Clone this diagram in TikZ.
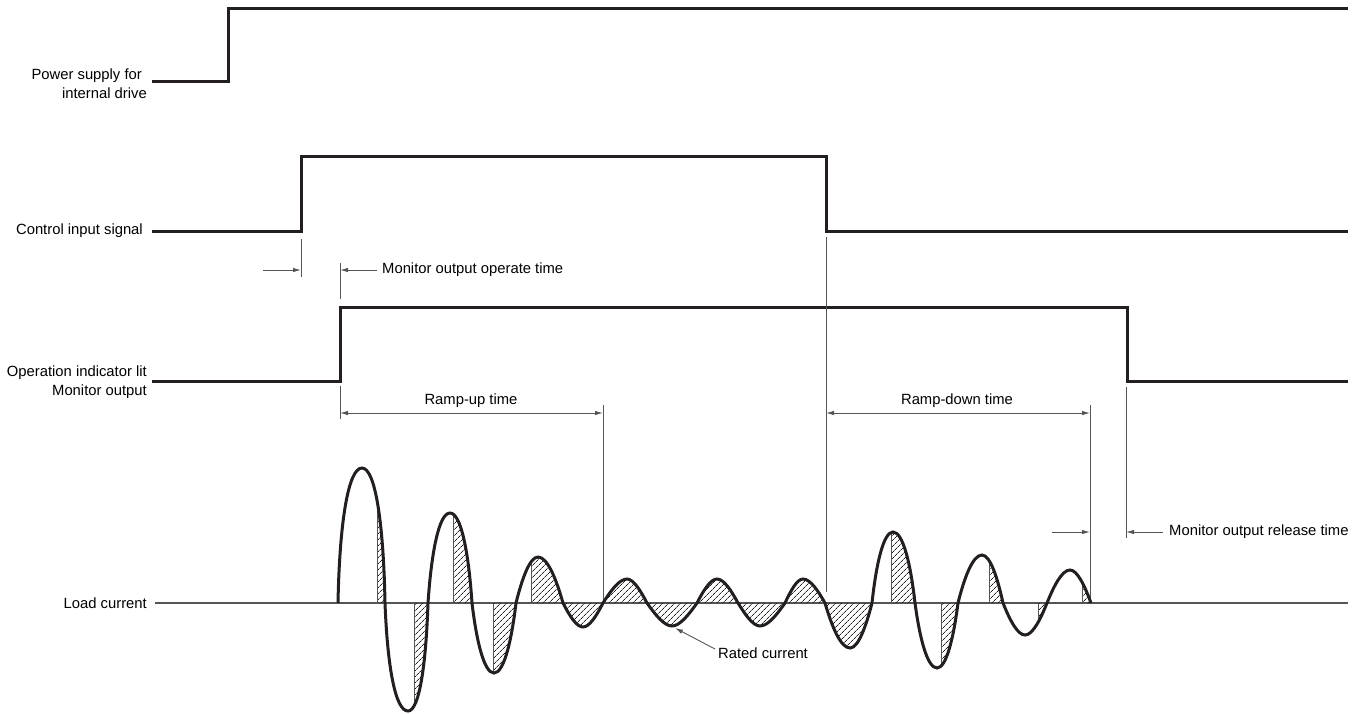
\documentclass[tikz,border=0pt]{standalone}
\usepackage{fontspec}
\setmainfont{Liberation Sans}
\usetikzlibrary{arrows.meta,patterns.meta}

\definecolor{ink}{HTML}{231F20}
\definecolor{rule}{HTML}{555555}

\tikzset{
    signal/.style={line width=3pt, color=ink},
    guide/.style={line width=0.9pt, color=rule},
    dim/.style={guide, -{Latex[length=8pt,width=4.5pt]}},
    twodim/.style={guide, {Latex[length=8pt,width=4.5pt]}-{Latex[length=8pt,width=4.5pt]}},
    tag/.style={inner sep=0pt, font=\fontsize{14.8}{19}\selectfont},
    hatch/.style={pattern={Lines[angle=45,distance=4pt,line width=0.75pt]}, pattern color=ink},
    % lobe shape: tall lobes get fuller than a sine
    declare function={
        lobeA(\h,\w)=max(0.06,0.38-0.11*\h/\w);
        lobeB(\h,\w)=0.49+0.035*\h/\w;
        lobeC(\h,\w)=max(0.42,0.74-0.12*\h/\w);
    }
}

% load current: one lobe per entry, start/peak/end x and peak y
\newcommand{\loadwave}{(338,603) foreach \xa/\xp/\xb/\yp in {
    338/362/385/468, 385/408/428/711, 428/450/472/513, 472/494/516/673,
    516/538/563/557, 563/583/603/627, 603/627/647/579, 647/672/697/626,
    697/717/738/579, 738/760/785/626, 785/803/825/579, 825/850/872/648,
    872/893/915/532, 915/937/958/668, 958/982/1003/555, 1003/1025/1047/635,
    1047/1070/1091/570}
    { .. controls ({\xa+lobeA(abs(\yp-603),\xb-\xa)*(\xp-\xa)},{603+lobeB(abs(\yp-603),\xb-\xa)*(\yp-603)})
         and ({\xa+lobeC(abs(\yp-603),\xb-\xa)*(\xp-\xa)},\yp) .. (\xp,\yp)
      .. controls ({\xp+(1-lobeC(abs(\yp-603),\xb-\xa))*(\xb-\xp)},\yp)
         and ({\xp+(1-lobeA(abs(\yp-603),\xb-\xa))*(\xb-\xp)},{603+lobeB(abs(\yp-603),\xb-\xa)*(\yp-603)}) .. (\xb,603)}}

\begin{document}
\begin{tikzpicture}[x=1pt,y=-1pt]
    \useasboundingbox (0,0) rectangle (1364,713);

    % Labels
    \node[tag, anchor=east, align=right] (lpower) at (147,84) {Power supply for\hspace*{5pt}\\internal drive};
    \node[tag, anchor=east] (lcontrol) at (143,231) {Control input signal};
    \node[tag, anchor=east, align=right] (lmonitor) at (147,382) {Operation indicator lit\\Monitor output};
    \node[tag, anchor=east] (lload) at (147,603) {Load current};

    % Signals
    \draw[signal] (152,81) -- (228,81) -- (228,8) -- (1348,8);
    \draw[signal] (152,231) -- (301,231) -- (301,156) -- (826,156) -- (826,231) -- (1348,231);
    \draw[signal] (152,381) -- (340,381) -- (340,307) -- (1127,307) -- (1127,381) -- (1348,381);
    \draw[guide, line width=1.3pt] (155,603) -- (1348,603);

    % Time marks
    \coordinate (opA) at (301,270);
    \coordinate (opB) at (340,270);
    \coordinate (upA) at (340,413);
    \coordinate (upB) at (603,413);
    \coordinate (dnA) at (826,413);
    \coordinate (dnB) at (1090,413);
    \coordinate (reA) at (1090,532);
    \coordinate (reB) at (1126,532);
    \draw[guide] (301,239) -- (301,277);
    \draw[guide] (340,263) -- (340,299);
    \draw[guide] (340,386) -- (340,419);
    \draw[guide] (603,405) -- (603,601);
    \draw[guide] (826,237) -- (826,592);
    \draw[guide] (1090,405) -- (1090,598);
    \draw[guide] (1126,387) -- (1126,538);

    \node[tag, anchor=west, inner xsep=5pt] (toperate) at (377,270) {Monitor output operate time};
    \node[tag, anchor=west, inner xsep=6pt] (trelease) at (1163,532) {Monitor output release time};
    \node[tag] (tup) at (471,401) {Ramp-up time};
    \node[tag] (tdown) at (957,401) {Ramp-down time};
    \node[tag, anchor=west] (trated) at (718,653) {Rated current};
    \coordinate (ratedtip) at (675,628);

    \draw[dim] (263,270) -- (opA);
    \draw[dim] (toperate.west) -- (opB);
    \draw[twodim] (upA) -- (upB);
    \draw[twodim] (dnA) -- (dnB);
    \draw[dim] (1052,532) -- (reA);
    \draw[dim] (trelease.west) -- (reB);
    \draw[dim] ([shift={(-3pt,4pt)}]trated.west) -- (ratedtip);

    % Hatched part of the load current
    \begin{scope}
        \clip \loadwave -- cycle;
        \fill[hatch] (377,440) rectangle (386,720) (414,440) rectangle (428,720)
            (453,440) rectangle (472,720) (493,440) rectangle (516,720)
            (531,440) rectangle (872,720) (891,440) rectangle (915,720)
            (941,440) rectangle (958,720) (989,440) rectangle (1003,720)
            (1038,440) rectangle (1047,720) (1082,440) rectangle (1091,720);
        \foreach \x in {377,414,453,493,531,891,941,989,1038,1082}
            \draw[guide, line width=0.7pt] (\x,440) -- (\x,720);
    \end{scope}
    \draw[signal] \loadwave;
\end{tikzpicture}
\end{document}
